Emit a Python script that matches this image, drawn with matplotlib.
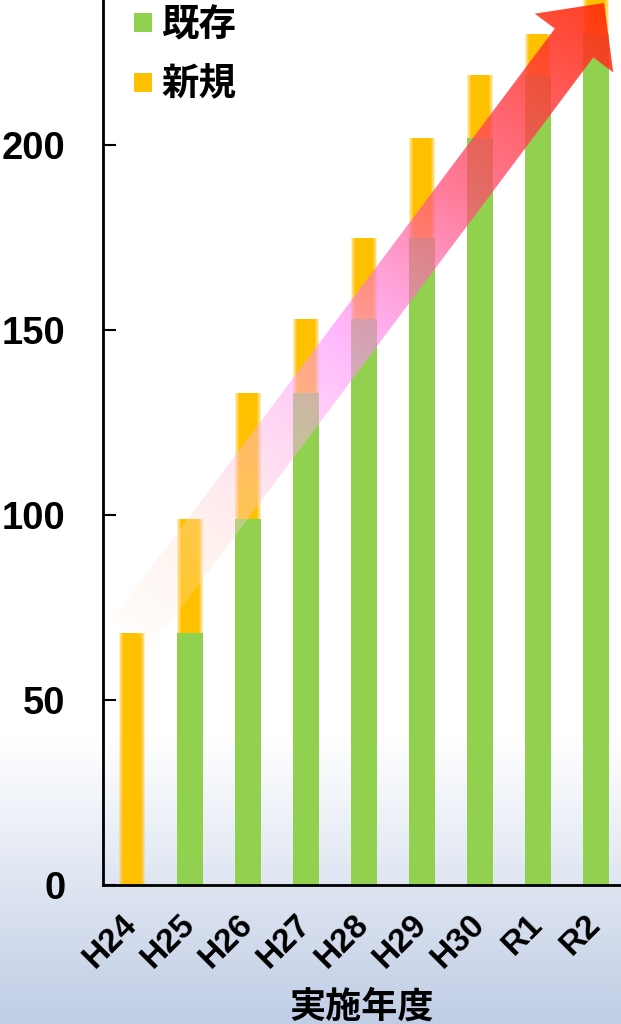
import numpy as np
import matplotlib
matplotlib.use("Agg")
import matplotlib.pyplot as plt
from matplotlib.patches import Patch, Polygon

years = ["H24", "H25", "H26", "H27", "H28", "H29", "H30", "R1", "R2"]
existing = [0, 68, 99, 133, 153, 175, 202, 219, 230]   # 既存
new = [68, 31, 34, 20, 22, 27, 17, 11, 12]            # 新規
yticks = [0, 50, 100, 150, 200]

green = "#92D050"
orange = "#FFC000"
lat_font = ["Liberation Sans", "DejaVu Sans"]
jp_font = ["Noto Sans CJK JP", "DejaVu Sans"]

W, H = 621, 1024
fig = plt.figure(figsize=(W / 100, H / 100), dpi=100)

# background: white fading to pale blue at the bottom
bg = fig.add_axes([0, 0, 1, 1], zorder=0)
rows = np.linspace(0, 1, H)
k = np.clip((rows - 0.72) / 0.28, 0, 1)
top_c = np.array([1.0, 1.0, 1.0])
bot_c = np.array([192, 205, 229]) / 255
grad = top_c[None, :] * (1 - k[:, None]) + bot_c[None, :] * k[:, None]
bg.imshow(grad[:, None, :], aspect="auto", extent=[0, 1, 0, 1])
bg.axis("off")

# main chart
ax = fig.add_axes([103 / W, (H - 885) / H, 1 - 103 / W, 885 / H], zorder=1)
ax.set_facecolor("none")
x = np.arange(len(years))
ax.bar(x, existing, width=0.45, color=green, linewidth=0)
# soft-edged orange bars
for w, a in [(0.45, 0.25), (0.40, 0.45), (0.35, 0.7), (0.30, 1.0)]:
    ax.bar(x, new, width=w, bottom=existing, color=orange, alpha=a, linewidth=0)

ax.set_xlim(-0.5, 8.43)
ax.set_ylim(0, 239.2)
for s in ["top", "right"]:
    ax.spines[s].set_visible(False)
for s in ["left", "bottom"]:
    ax.spines[s].set_linewidth(2)
    ax.spines[s].set_color("black")

ax.set_yticks(yticks, labels=[str(v) for v in yticks], family=lat_font,
              fontsize=27.5, fontweight="bold")
ax.tick_params(axis="y", direction="in", length=9, width=1.5, pad=27)
ax.set_xticks(x, labels=years, family=lat_font, fontsize=24, fontweight="bold",
              rotation=45, ha="right", va="center", rotation_mode="anchor")
ax.tick_params(axis="x", length=0, pad=25)

ax.set_xlabel("実施年度", fontsize=26, fontweight="bold", family=jp_font)
ax.xaxis.set_label_coords(0.5, -(1007 - 885) / 885)
ax.xaxis.label.set_va("center")

handles = [Patch(facecolor=green, edgecolor="none"),
           Patch(facecolor=orange, edgecolor="none")]
ax.legend(handles, ["既存", "新規"], loc="upper left",
          bbox_to_anchor=(134 / W, 1 - 5 / H), bbox_transform=fig.transFigure,
          frameon=False, prop={"family": jp_font, "weight": "bold", "size": 27},
          handlelength=0.47, handleheight=0.42, handletextpad=0.25,
          labelspacing=0.55, borderpad=0, borderaxespad=0)

# gradient arrow on top, in pixel coordinates
ov = fig.add_axes([0, 0, 1, 1], zorder=2)
tail = np.array([133.0, 632.0])
tip = np.array([604.0, 3.0])
d = tip - tail
L = np.hypot(*d)
u = d / L
n = np.array([-u[1], u[0]])
sw, hw, hl = 24, 49, 50
base = tip - hl * u
pts = [tail - sw * n, base - sw * n, base - hw * n, tip,
       base + hw * n, base + sw * n, tail + sw * n]
poly = Polygon(pts, closed=True, facecolor="none", edgecolor="none")
ov.add_patch(poly)

X, Y = np.meshgrid(np.arange(W) + 0.5, np.arange(H) + 0.5)
t = np.clip(((X - tail[0]) * u[0] + (Y - tail[1]) * u[1]) / L, 0, 1)
stops = [0.0, 0.15, 0.45, 0.70, 1.0]
r = [1.0, 1.0, 1.0, 1.0, 1.0]
g = [0.92, 0.85, 0.55, 0.30, 0.18]
b = [0.85, 0.80, 1.0, 0.45, 0.05]
a = [0.12, 0.35, 0.60, 0.75, 0.92]
img = np.dstack([np.interp(t, stops, ch) for ch in (r, g, b, a)])
im = ov.imshow(img, extent=[0, W, H, 0], aspect="auto", interpolation="bilinear")
im.set_clip_path(poly)
ov.set_xlim(0, W)
ov.set_ylim(H, 0)
ov.axis("off")

fig.savefig("out.png", dpi=100)
